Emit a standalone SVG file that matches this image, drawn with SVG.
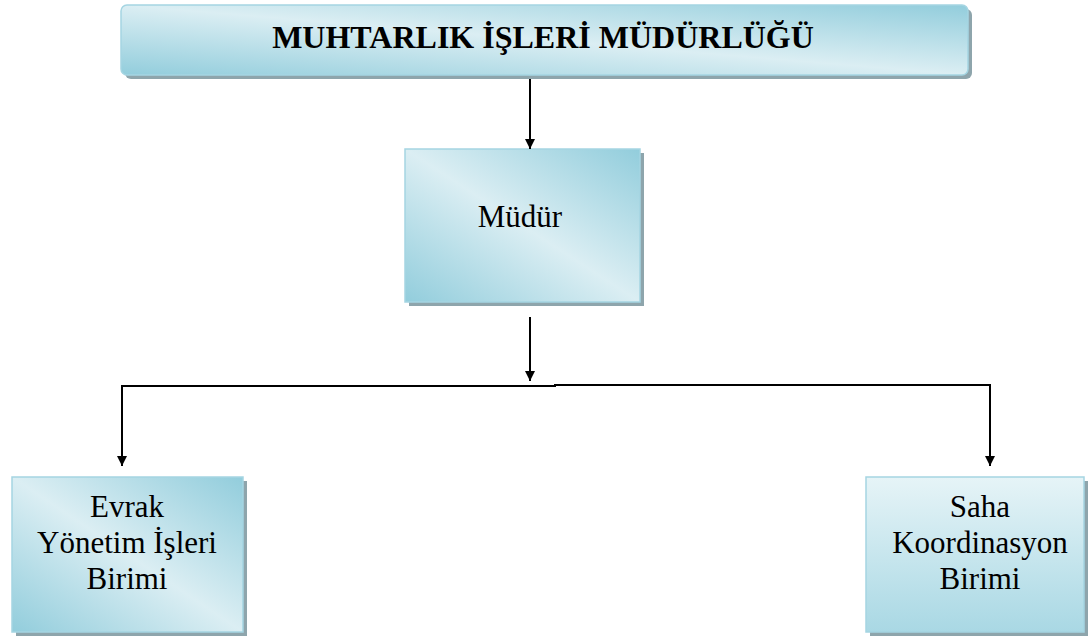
<svg xmlns="http://www.w3.org/2000/svg" width="1089" height="639" viewBox="0 0 1089 639">
<defs>
<linearGradient id="g" x1="1" y1="0" x2="0" y2="1">
<stop offset="0" stop-color="#92cddc"/>
<stop offset="0.5" stop-color="#dbeef3"/>
<stop offset="1" stop-color="#92cddc"/>
</linearGradient>
<linearGradient id="gv" x1="0" y1="0" x2="0" y2="1">
<stop offset="0" stop-color="#e6f4f7"/>
<stop offset="1" stop-color="#a9d8e4"/>
</linearGradient>
<marker id="ah" viewBox="0 0 10 10" refX="10" refY="5" markerWidth="10" markerHeight="10" markerUnits="userSpaceOnUse" orient="auto">
<path d="M0,0 L10,5 L0,10 z" fill="#000"/>
</marker>
</defs>
<style>
.shadow{fill:#8ea5ac}
.box{stroke:#a5d5e2;stroke-width:1.5}
.t{font-family:"Liberation Serif","Times New Roman",serif;font-size:31px;fill:#000;text-anchor:middle}
.b{font-weight:bold;font-size:32px}
.c{stroke:#000;stroke-width:2;fill:none}
</style>
<rect width="1089" height="639" fill="#fff"/>
<g id="muhtarlik">
<rect class="shadow" x="125" y="9" width="847" height="70" rx="6"/>
<rect class="box" x="121" y="5" width="847" height="70" rx="6" fill="url(#g)"/>
<text class="t b" x="543" y="48">MUHTARLIK İŞLERİ MÜDÜRLÜĞÜ</text>
</g>
<g id="mudur">
<rect class="shadow" x="409" y="153" width="235" height="153"/>
<rect class="box" x="405" y="149" width="235" height="153" fill="url(#g)"/>
<text class="t" x="520" y="227">Müdür</text>
</g>
<g id="evrak">
<rect class="shadow" x="16" y="481" width="231" height="155"/>
<rect class="box" x="12" y="477" width="231" height="155" fill="url(#g)"/>
<text class="t" x="127" y="517">Evrak</text>
<text class="t" x="127" y="553">Yönetim İşleri</text>
<text class="t" x="127" y="589">Birimi</text>
</g>
<g id="saha">
<rect class="shadow" x="870" y="481" width="218" height="155"/>
<rect class="box" x="866" y="477" width="218" height="155" fill="url(#gv)"/>
<text class="t" x="980" y="517">Saha</text>
<text class="t" x="980" y="553">Koordinasyon</text>
<text class="t" x="980" y="589">Birimi</text>
</g>
<g id="connectors">
<line class="c" x1="530" y1="79" x2="530" y2="149" marker-end="url(#ah)"/>
<line class="c" x1="530" y1="317" x2="530" y2="381" marker-end="url(#ah)"/>
<polyline class="c" points="122,400 122,386 555,386 555,385 990,385 990,400"/>
<line class="c" x1="122" y1="386" x2="122" y2="466" marker-end="url(#ah)"/>
<line class="c" x1="990" y1="385" x2="990" y2="466" marker-end="url(#ah)"/>
</g>
</svg>
